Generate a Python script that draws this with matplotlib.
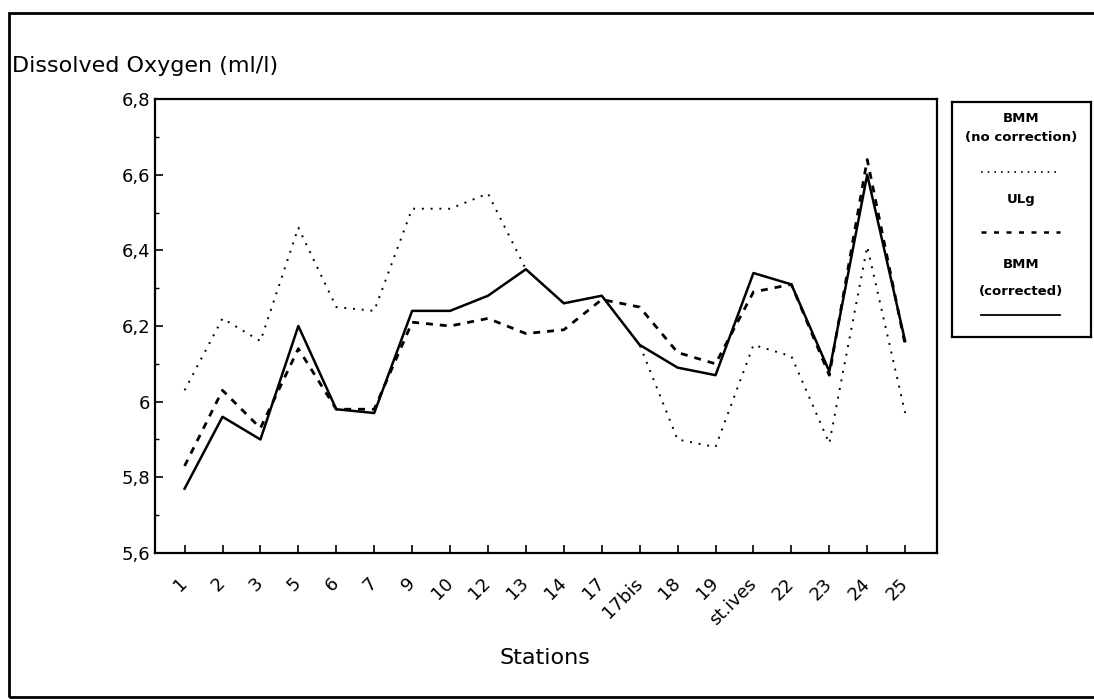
import numpy as np
import matplotlib
matplotlib.use('Agg')
import matplotlib.pyplot as plt
from matplotlib.patches import Rectangle
from matplotlib.ticker import MultipleLocator, FuncFormatter

# stations along the transect
stations = ['1', '2', '3', '5', '6', '7', '9', '10', '12', '13', '14', '17',
            '17bis', '18', '19', 'st.ives', '22', '23', '24', '25']

# dissolved oxygen, ml/l
bmm_raw = [6.03, 6.22, 6.16, 6.46, 6.25, 6.24, 6.51, 6.51, 6.55, 6.35,
           6.26, 6.28, 6.15, 5.90, 5.88, 6.15, 6.12, 5.89, 6.41, 5.97]
ulg = [5.83, 6.03, 5.93, 6.14, 5.98, 5.98, 6.21, 6.20, 6.22, 6.18,
       6.19, 6.27, 6.25, 6.13, 6.10, 6.29, 6.31, 6.07, 6.64, 6.15]
bmm_corr = [5.77, 5.96, 5.90, 6.20, 5.98, 5.97, 6.24, 6.24, 6.28, 6.35,
            6.26, 6.28, 6.15, 6.09, 6.07, 6.34, 6.31, 6.08, 6.60, 6.16]

W, H = 1094, 699
fig = plt.figure(figsize=(W / 100, H / 100), dpi=100)

# outer frame round the whole page
fig.add_artist(Rectangle((9 / W, 1 - 697 / H), 1.2, (697 - 13) / H,
                         transform=fig.transFigure, fill=False,
                         lw=2.0, ec='black'))

ax = fig.add_axes([155 / W, 1 - 553 / H, (937 - 155) / W, (553 - 99) / H])
x = np.arange(len(stations))

ax.plot(x, bmm_raw, color='black', lw=1.4, linestyle=(0, (1, 3.5)))
ax.plot(x, ulg, color='black', lw=2.0, linestyle=(0, (2.5, 2.5)))
ax.plot(x, bmm_corr, color='black', lw=1.8, linestyle='-')

ax.set_xlim(-0.78, 19.84)
ax.set_ylim(5.6, 6.8)
ax.yaxis.set_major_locator(MultipleLocator(0.2))
ax.yaxis.set_minor_locator(MultipleLocator(0.1))
ax.yaxis.set_major_formatter(FuncFormatter(
    lambda v, p: ('%g' % round(v, 1)).replace('.', ',')))
ax.set_xticks(x)
ax.set_xticklabels(stations, rotation=45, ha='right', va='center',
                   rotation_mode='anchor')
ax.tick_params(axis='both', direction='in', length=6, width=1.2, labelsize=13)
ax.tick_params(axis='y', which='minor', direction='in', length=3, width=1)
ax.tick_params(axis='x', pad=20, labelsize=13)
for s in ax.spines.values():
    s.set_linewidth(1.6)

fig.text(12 / W, 1 - 66 / H, 'Dissolved Oxygen (ml/l)', fontsize=16,
         va='center', ha='left')
fig.text(545 / W, 1 - 658 / H, 'Stations', fontsize=16,
         va='center', ha='center')

# hand-made legend box
lg = fig.add_axes([952 / W, 1 - 337 / H, (1091 - 952) / W, (337 - 102) / H])
lg.set_xlim(0, 1)
lg.set_ylim(337, 102)
lg.set_xticks([])
lg.set_yticks([])
for s in lg.spines.values():
    s.set_linewidth(1.6)

lfont = dict(fontsize=9.5, fontweight='bold', ha='center', va='center',
             family=['Liberation Sans Narrow', 'DejaVu Sans'])
lg.text(0.5, 119, 'BMM', **lfont)
lg.text(0.5, 137, '(no correction)', **lfont)
lg.text(0.5, 199, 'ULg', **lfont)
lg.text(0.5, 264, 'BMM', **lfont)
lg.text(0.5, 292, '(corrected)', **lfont)
lg.plot([0.21, 0.78], [172, 172], color='black', lw=1.2, linestyle=(0, (1, 3)))
lg.plot([0.21, 0.78], [232, 232], color='black', lw=1.8, linestyle=(0, (2, 3)))
lg.plot([0.21, 0.78], [315, 315], color='black', lw=1.3)

fig.savefig('out.png', dpi=100)
